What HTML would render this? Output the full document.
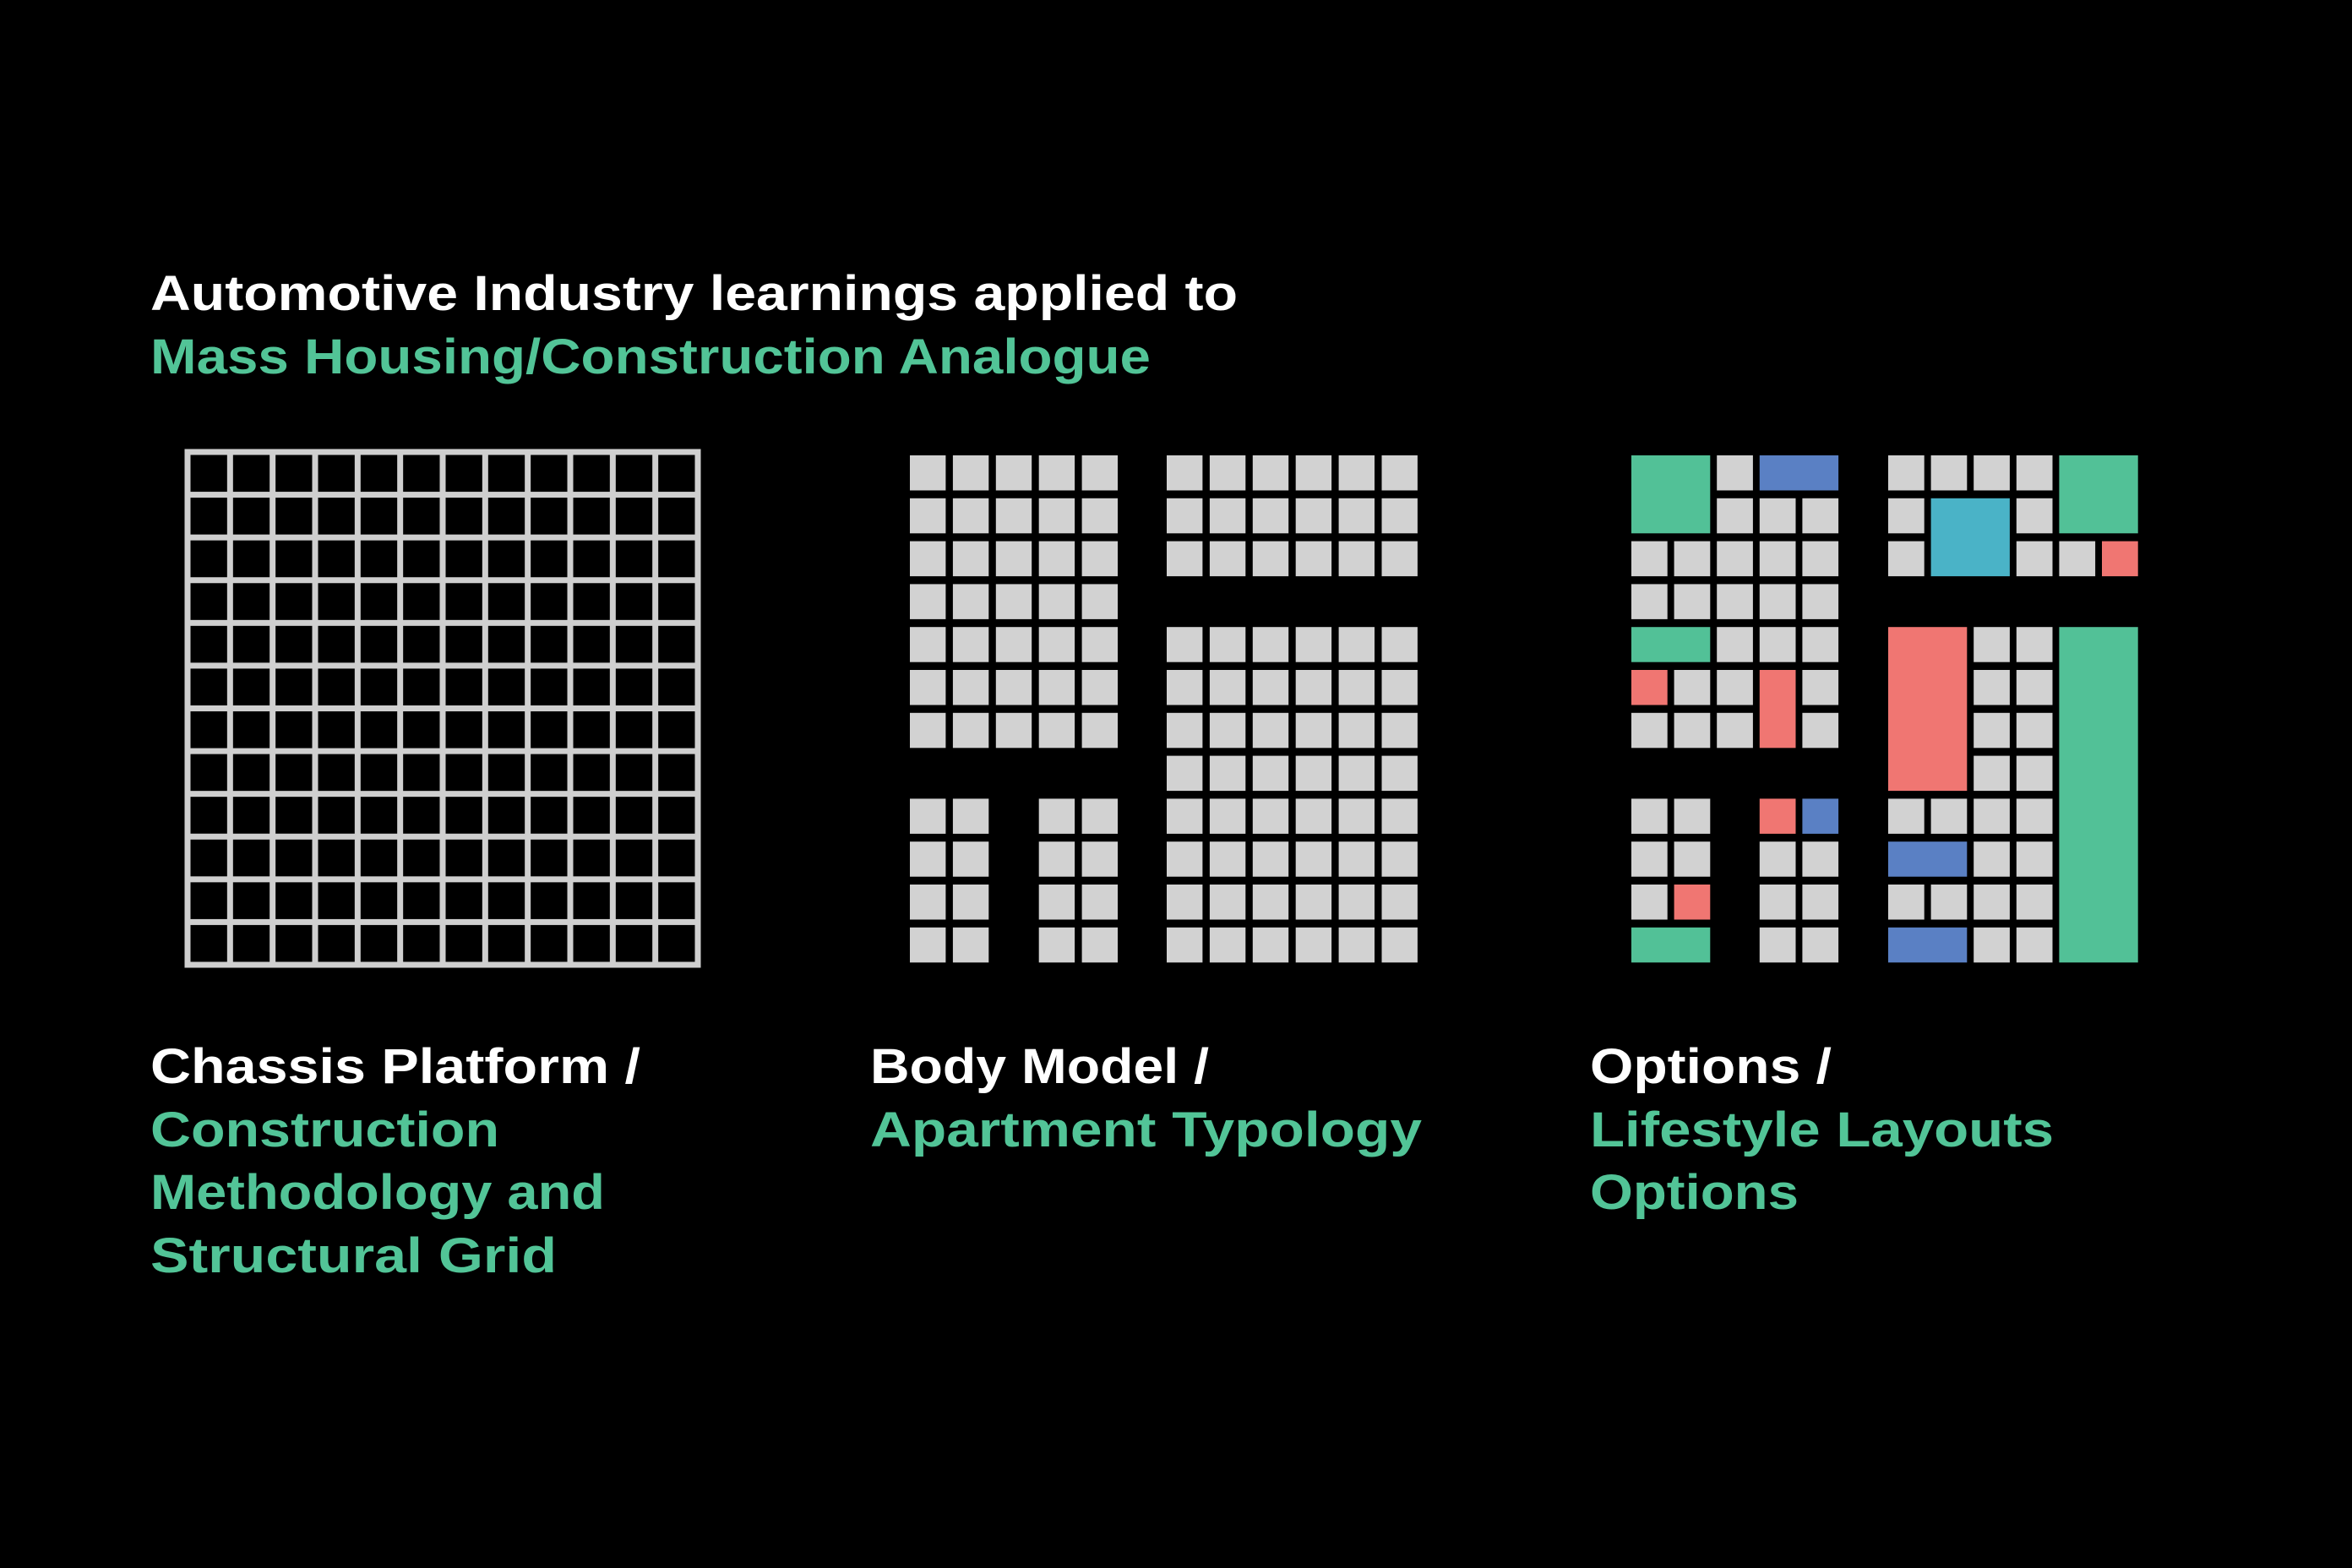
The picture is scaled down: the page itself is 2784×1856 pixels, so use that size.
<!DOCTYPE html>
<html><head><meta charset="utf-8">
<style>
html,body{margin:0;padding:0;background:#000;}
svg{display:block;}
text{font-family:"Liberation Sans",sans-serif;font-weight:bold;font-size:58px;}
.w{fill:#ffffff}.g{fill:#52c497}
</style></head>
<body>
<svg id="s" width="2784" height="1856" viewBox="0 0 2784 1856" xmlns="http://www.w3.org/2000/svg">
<rect width="2784" height="1856" fill="#000"/>
<text class="w" x="178" y="367" textLength="1287" lengthAdjust="spacingAndGlyphs">Automotive Industry learnings applied to</text>
<text class="g" x="178" y="442" textLength="1184" lengthAdjust="spacingAndGlyphs">Mass Housing/Construction Analogue</text>

<text class="w" x="178" y="1282" textLength="580" lengthAdjust="spacingAndGlyphs">Chassis Platform /</text>
<text class="g" x="178" y="1357" textLength="413" lengthAdjust="spacingAndGlyphs">Construction</text>
<text class="g" x="178" y="1431" textLength="538" lengthAdjust="spacingAndGlyphs">Methodology and</text>
<text class="g" x="178" y="1506" textLength="481" lengthAdjust="spacingAndGlyphs">Structural Grid</text>

<text class="w" x="1030" y="1282" textLength="401" lengthAdjust="spacingAndGlyphs">Body Model /</text>
<text class="g" x="1030" y="1357" textLength="653" lengthAdjust="spacingAndGlyphs">Apartment Typology</text>

<text class="w" x="1882" y="1282" textLength="286" lengthAdjust="spacingAndGlyphs">Options /</text>
<text class="g" x="1882" y="1357" textLength="549" lengthAdjust="spacingAndGlyphs">Lifestyle Layouts</text>
<text class="g" x="1882" y="1431" textLength="247" lengthAdjust="spacingAndGlyphs">Options</text>
<g id="shapes"></g>
</svg>
<script>
(function(){
var NS="http://www.w3.org/2000/svg",g=document.getElementById("shapes");
function R(x,y,w,h,f){var r=document.createElementNS(NS,"rect");r.setAttribute("x",x);r.setAttribute("y",y);r.setAttribute("width",w);r.setAttribute("height",h);r.setAttribute("fill",f);g.appendChild(r);}
var GR="#d2d2d2",GN="#52c197",BL="#5a80c4",RD="#f07672",CY="#4ab3c7";
// grid 1
var gx0=222,gx1=826,gy0=535,gy1=1142,lw=7;
for(var i=0;i<=12;i++){R(gx0+i*(gx1-gx0)/12-lw/2,gy0-lw/2,lw,gy1-gy0+lw,"#cfcfcf");}
for(var j=0;j<=12;j++){R(gx0-lw/2,gy0+j*(gy1-gy0)/12-lw/2,gx1-gx0+lw,lw,"#cfcfcf");}
// grid 2
var RP=50.8,RH=41.5;
function ry(r){return 539+r*RP;}
var L2=function(c){return 1077+c*50.9;},R2=function(c){return 1381+c*50.9;},CW=42.4;
for(var r=0;r<7;r++)for(var c=0;c<5;c++)R(L2(c),ry(r),CW,RH,GR);
for(var r=8;r<12;r++)for(var c of [0,1,3,4])R(L2(c),ry(r),CW,RH,GR);
for(var r=0;r<3;r++)for(var c=0;c<6;c++)R(R2(c),ry(r),CW,RH,GR);
for(var r=4;r<12;r++)for(var c=0;c<6;c++)R(R2(c),ry(r),CW,RH,GR);
// grid 3
var P=50.6,W=42.7,H=RH;
function X(b,c){return (b?2235:1931)+c*P;}
function S(b,c0,r0,c1,r1,f){var x=X(b,c0),y=ry(r0);R(x,y,X(b,c1)+W-x,ry(r1)+H-y,f);}
// left block
S(0,0,0,1,1,GN);S(0,2,0,2,0,GR);S(0,3,0,4,0,BL);
S(0,2,1,2,1,GR);S(0,3,1,3,1,GR);S(0,4,1,4,1,GR);
for(var r=2;r<4;r++)for(var c=0;c<5;c++)S(0,c,r,c,r,GR);
S(0,0,4,1,4,GN);for(var c=2;c<5;c++)S(0,c,4,c,4,GR);
S(0,0,5,0,5,RD);S(0,1,5,1,5,GR);S(0,2,5,2,5,GR);S(0,3,5,3,6,RD);S(0,4,5,4,5,GR);
S(0,0,6,0,6,GR);S(0,1,6,1,6,GR);S(0,2,6,2,6,GR);S(0,4,6,4,6,GR);
S(0,0,8,0,8,GR);S(0,1,8,1,8,GR);S(0,0,9,0,9,GR);S(0,1,9,1,9,GR);
S(0,0,10,0,10,GR);S(0,1,10,1,10,RD);S(0,0,11,1,11,GN);
S(0,3,8,3,8,RD);S(0,4,8,4,8,BL);
for(var r=9;r<12;r++){S(0,3,r,3,r,GR);S(0,4,r,4,r,GR);}
// right block
for(var c=0;c<4;c++)S(1,c,0,c,0,GR);S(1,4,0,5,1,GN);
S(1,0,1,0,1,GR);S(1,1,1,2,2,CY);S(1,3,1,3,1,GR);
S(1,0,2,0,2,GR);S(1,3,2,3,2,GR);S(1,4,2,4,2,GR);S(1,5,2,5,2,RD);
S(1,0,4,1,7,RD);for(var r=4;r<8;r++){S(1,2,r,2,r,GR);S(1,3,r,3,r,GR);}
S(1,4,4,5,11,GN);
for(var c=0;c<4;c++){S(1,c,8,c,8,GR);S(1,c,10,c,10,GR);}
S(1,0,9,1,9,BL);S(1,2,9,2,9,GR);S(1,3,9,3,9,GR);
S(1,0,11,1,11,BL);S(1,2,11,2,11,GR);S(1,3,11,3,11,GR);
})();
</script>
</body></html>
